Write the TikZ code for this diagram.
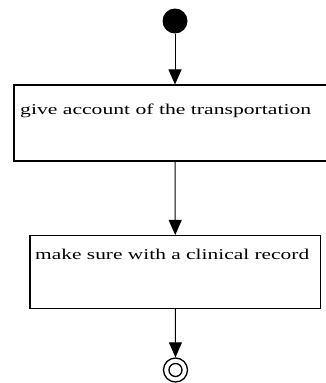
\documentclass[tikz,border=0pt]{standalone}
\usepackage{fontspec}
\setmainfont{Liberation Serif}
\usetikzlibrary{arrows.meta}
\tikzset{
  actbox/.style={draw=black, line width=1.1pt, rectangle, inner sep=0pt, fill=white},
  acttext/.style={anchor=base west, inner sep=0pt, font=\fontsize{15}{15}\selectfont},
  flow/.style={line width=1pt, -{Triangle[width=13pt,length=15pt]}},
  startnode/.style={circle, fill=black, inner sep=0pt, minimum size=25pt},
}
\begin{document}
\begin{tikzpicture}[x=1pt,y=-1pt]
\useasboundingbox (0,0) rectangle (326,383);
\fill[white] (0,0) rectangle (326,383);
\node[startnode] (init) at (175,21) {};
\node[actbox, minimum width=322pt, minimum height=76pt] (box1) at (175,123) {};
\node[acttext] (t1) at (20,114) {\resizebox{291pt}{\height}{give account of the transportation}};
\node[actbox, minimum width=290.5pt, minimum height=73pt] (box2) at (175.25,272) {};
\node[acttext] (t2) at (35,259.5) {\resizebox{274pt}{\height}{make sure with a clinical record}};
\node[circle, draw=black, line width=1.3pt, minimum size=24pt, inner sep=0pt] (final) at (175.5,370) {};
\node[circle, draw=black, line width=1.3pt, minimum size=13pt, inner sep=0pt] (finalin) at (final.center) {};
\draw[flow] (init) -- (box1.north);
\draw[flow] (box1.south) -- (box2.north);
\draw[flow] (box2.south) -- (final.north);
\end{tikzpicture}
\end{document}
